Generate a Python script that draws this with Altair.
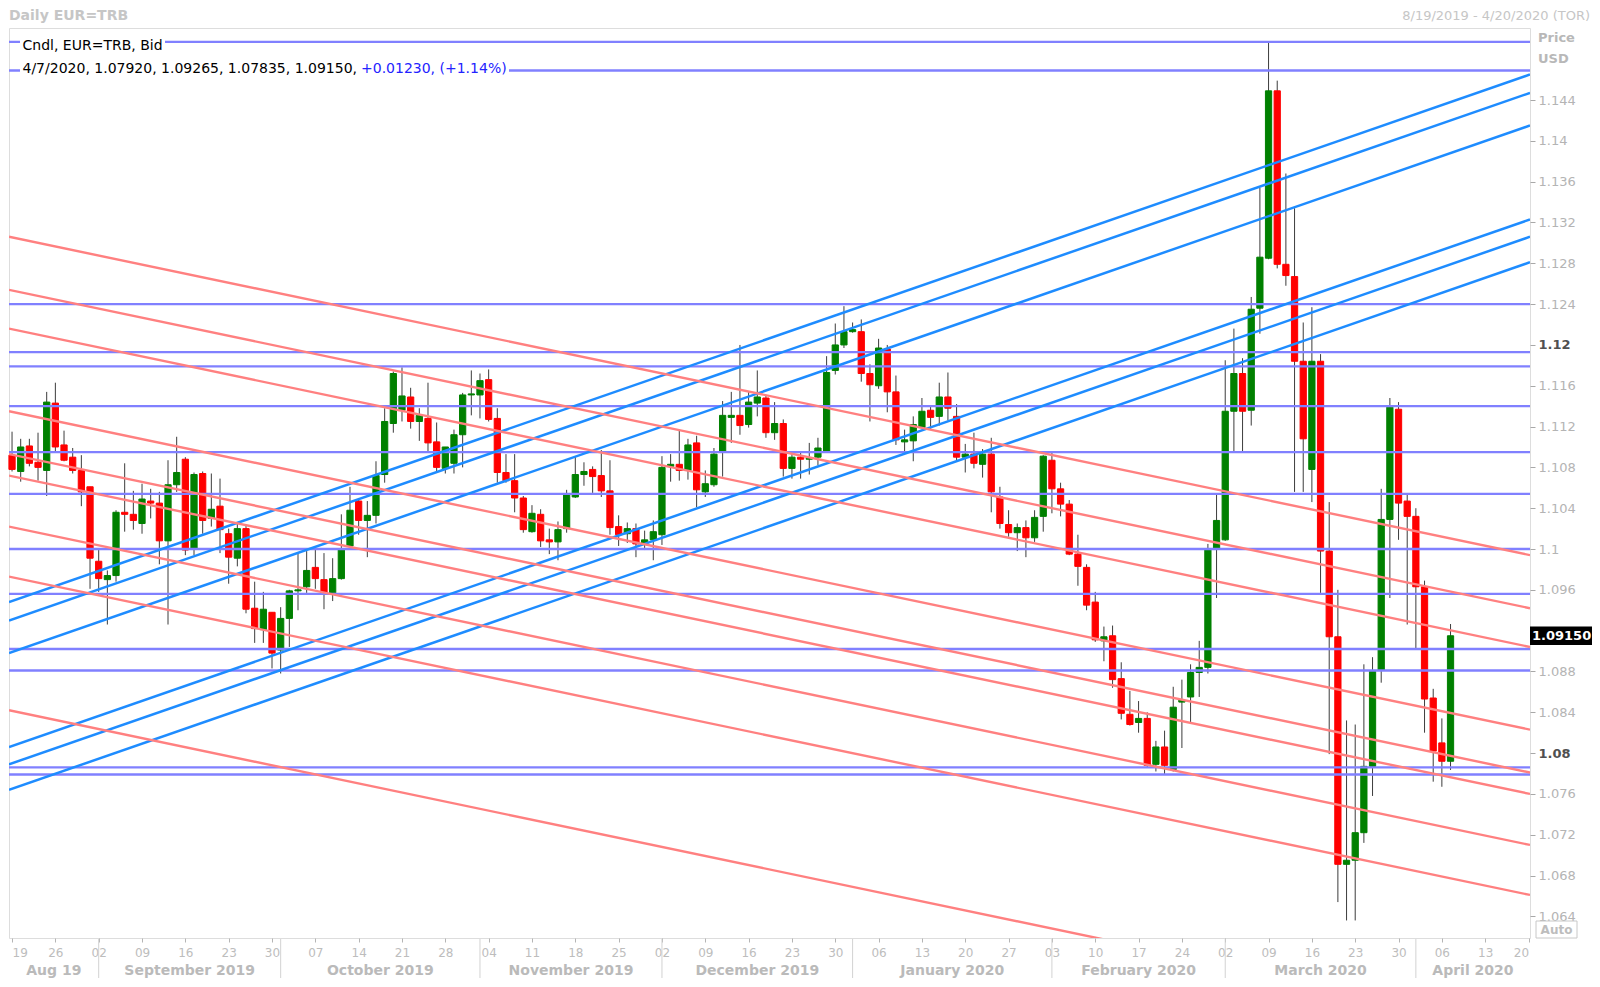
import altair as alt
import pandas as pd

# ---------------- data ----------------
opens = [
    1.1092, 1.1076, 1.1101, 1.1085, 1.1077,
    1.1143, 1.1102, 1.1090, 1.1077, 1.1061,
    1.0988, 1.0970, 1.0974, 1.1036, 1.1034,
    1.1025, 1.1047, 1.1045, 1.1008, 1.1063,
    1.1088, 1.1001, 1.1074, 1.1030, 1.1042,
    1.1015, 1.0991, 1.1020, 1.0942, 1.0921,
    1.0938, 1.0901, 1.0932, 1.0959, 1.0963,
    1.0982, 1.0970, 1.0957, 1.0971, 1.1003,
    1.1047, 1.1028, 1.1033, 1.1073, 1.1123,
    1.1136, 1.1149, 1.1125, 1.1128, 1.1105,
    1.1079, 1.1084, 1.1112, 1.1151, 1.1151,
    1.1166, 1.1128, 1.1075, 1.1067, 1.1050,
    1.1017, 1.1034, 1.1009, 1.1007, 1.1020,
    1.1051, 1.1073, 1.1078, 1.1072, 1.1057,
    1.1022, 1.1015, 1.1020, 1.1005, 1.1009,
    1.1014, 1.1081, 1.1083, 1.1077, 1.1104,
    1.1056, 1.1063, 1.1095, 1.1129, 1.1131,
    1.1122, 1.1143, 1.1148, 1.1114, 1.1123,
    1.1079, 1.1090, 1.1088, 1.1090, 1.1096,
    1.1175, 1.1200, 1.1213, 1.1213, 1.1172,
    1.1160, 1.1196, 1.1154, 1.1105, 1.1106,
    1.1119, 1.1136, 1.1130, 1.1149, 1.1130,
    1.1090, 1.1093, 1.1083, 1.1093, 1.1051,
    1.1024, 1.1016, 1.1021, 1.1011, 1.1032,
    1.1087, 1.1059, 1.1044, 1.0995, 1.0982,
    1.0948, 1.0910, 1.0915, 1.0873, 1.0838,
    1.0830, 1.0834, 1.0789, 1.0806, 1.0784,
    1.0850, 1.0855, 1.0879, 1.0884, 1.1000,
    1.1009, 1.1135, 1.1172, 1.1136, 1.1236,
    1.1285, 1.1449, 1.1279, 1.1267, 1.1184,
    1.1078, 1.1184, 1.0998, 1.0914, 1.0691,
    1.0695, 1.0722, 1.0787, 1.0881, 1.1029,
    1.1137, 1.1047, 1.1032, 1.0963, 1.0854,
    1.0810, 1.0792,
]
highs = [
    1.1115, 1.1108, 1.1108, 1.1114, 1.1154,
    1.1163, 1.1116, 1.1099, 1.1092, 1.1061,
    1.0999, 1.0979, 1.1038, 1.1084, 1.1057,
    1.1064, 1.1059, 1.1056, 1.1087, 1.1110,
    1.1090, 1.1075, 1.1076, 1.1074, 1.1069,
    1.1020, 1.1025, 1.1024, 1.0968, 1.0958,
    1.0938, 1.0943, 1.0960, 1.0996, 1.0998,
    1.1000, 1.0996, 1.0991, 1.1034, 1.1061,
    1.1048, 1.1047, 1.1086, 1.1138, 1.1174,
    1.1178, 1.1158, 1.1138, 1.1163, 1.1124,
    1.1100, 1.1117, 1.1153, 1.1175, 1.1172,
    1.1176, 1.1138, 1.1093, 1.1093, 1.1052,
    1.1043, 1.1039, 1.1020, 1.1027, 1.1058,
    1.1091, 1.1085, 1.1081, 1.1097, 1.1087,
    1.1033, 1.1026, 1.1025, 1.1018, 1.1028,
    1.1091, 1.1093, 1.1117, 1.1108, 1.1111,
    1.1077, 1.1099, 1.1145, 1.1154, 1.1200,
    1.1154, 1.1175, 1.1151, 1.1144, 1.1127,
    1.1096, 1.1095, 1.1104, 1.1109, 1.1189,
    1.1221, 1.1238, 1.1222, 1.1225, 1.1181,
    1.1206, 1.1200, 1.1170, 1.1117, 1.1130,
    1.1148, 1.1141, 1.1163, 1.1173, 1.1142,
    1.1103, 1.1114, 1.1098, 1.1109, 1.1061,
    1.1038, 1.1025, 1.1028, 1.1038, 1.1092,
    1.1096, 1.1065, 1.1048, 1.1014, 1.0985,
    1.0958, 1.0924, 1.0925, 1.0889, 1.0861,
    1.0851, 1.0840, 1.0812, 1.0822, 1.0865,
    1.0872, 1.0887, 1.0910, 1.1005, 1.1053,
    1.1185, 1.1216, 1.1187, 1.1247, 1.1354,
    1.1497, 1.1459, 1.1368, 1.1334, 1.1222,
    1.1237, 1.1191, 1.1046, 1.0960, 1.0832,
    1.0828, 1.0887, 1.0894, 1.1059, 1.1148,
    1.1144, 1.1053, 1.1040, 1.0969, 1.0863,
    1.0834, 1.09265,
]
lows = [
    1.1076, 1.1066, 1.1081, 1.1067, 1.1052,
    1.1095, 1.1086, 1.1074, 1.1042, 1.0961,
    1.0958, 1.0926, 1.0968, 1.1017, 1.1019,
    1.1015, 1.1030, 1.0985, 1.0926, 1.1056,
    1.0994, 1.0994, 1.1015, 1.1022, 1.0996,
    1.0966, 1.0983, 1.0937, 1.0908, 1.0908,
    1.0883, 1.0878, 1.0904, 1.0940, 1.0957,
    1.0961, 1.0941, 1.0949, 1.0970, 1.1003,
    1.1014, 1.0992, 1.1025, 1.1065, 1.1114,
    1.1125, 1.1118, 1.1106, 1.1095, 1.1075,
    1.1074, 1.1074, 1.1080, 1.1131, 1.1128,
    1.1125, 1.1065, 1.1065, 1.1036, 1.1016,
    1.1016, 1.1002, 1.0995, 1.0989, 1.1016,
    1.1050, 1.1062, 1.1055, 1.1051, 1.1014,
    1.1003, 1.1006, 1.0992, 1.0999, 1.0989,
    1.1004, 1.1066, 1.1067, 1.1068, 1.1041,
    1.1051, 1.1061, 1.1071, 1.1104, 1.1112,
    1.1119, 1.1130, 1.1109, 1.1107, 1.1071,
    1.1069, 1.1069, 1.1073, 1.1082, 1.1095,
    1.1171, 1.1197, 1.1212, 1.1164, 1.1125,
    1.1157, 1.1134, 1.1102, 1.1095, 1.1086,
    1.1118, 1.1117, 1.1121, 1.1126, 1.1086,
    1.1075, 1.1079, 1.1070, 1.1036, 1.1020,
    1.1012, 1.0998, 1.0992, 1.1007, 1.1017,
    1.1035, 1.1032, 1.0994, 1.0964, 1.0940,
    1.0909, 1.0890, 1.0864, 1.0833, 1.0827,
    1.0820, 1.0786, 1.0782, 1.0779, 1.0782,
    1.0805, 1.0830, 1.0855, 1.0878, 1.0952,
    1.1008, 1.1095, 1.1095, 1.1121, 1.1211,
    1.1284, 1.1275, 1.1258, 1.1056, 1.1056,
    1.1046, 1.0957, 1.0799, 1.0654, 1.0636,
    1.0636, 1.0712, 1.0758, 1.0869, 1.0952,
    1.1009, 1.0926, 1.0903, 1.0820, 1.0772,
    1.0767, 1.07835,
]
closes = [
    1.1078, 1.1100, 1.1084, 1.1080, 1.1144,
    1.1100, 1.1087, 1.1077, 1.1056, 1.0991,
    1.0971, 1.0974, 1.1036, 1.1034, 1.1028,
    1.1049, 1.1045, 1.1008, 1.1063, 1.1075,
    1.0999, 1.1073, 1.1028, 1.1039, 1.1019,
    1.0992, 1.1020, 1.0941, 1.0922, 1.0941,
    1.0898, 1.0932, 1.0959, 1.0960, 1.0979,
    1.0971, 1.0957, 1.0971, 1.0999, 1.1038,
    1.1028, 1.1033, 1.1072, 1.1125, 1.1172,
    1.1150, 1.1125, 1.1131, 1.1104, 1.1080,
    1.1100, 1.1112, 1.1151, 1.1152, 1.1165,
    1.1127, 1.1075, 1.1067, 1.1050, 1.1019,
    1.1035, 1.1008, 1.1007, 1.1019, 1.1054,
    1.1073, 1.1076, 1.1071, 1.1057, 1.1021,
    1.1014, 1.1020, 1.1005, 1.1009, 1.1017,
    1.1080, 1.1083, 1.1077, 1.1102, 1.1058,
    1.1064, 1.1093, 1.1131, 1.1131, 1.1121,
    1.1144, 1.1149, 1.1114, 1.1123, 1.1079,
    1.1090, 1.1088, 1.1089, 1.1099, 1.1173,
    1.1200, 1.1213, 1.1215, 1.1172, 1.1161,
    1.1197, 1.1154, 1.1107, 1.1107, 1.1122,
    1.1135, 1.1129, 1.1149, 1.1138, 1.1090,
    1.1093, 1.1084, 1.1093, 1.1056, 1.1025,
    1.1016, 1.1021, 1.1011, 1.1031, 1.1091,
    1.1059, 1.1044, 1.0995, 1.0983, 1.0945,
    1.0911, 1.0914, 1.0872, 1.0839, 1.0828,
    1.0834, 1.0788, 1.0806, 1.0788, 1.0845,
    1.0852, 1.0879, 1.0884, 1.1000, 1.1028,
    1.1135, 1.1172, 1.1135, 1.1235, 1.1286,
    1.1449, 1.1279, 1.1268, 1.1184, 1.1108,
    1.1184, 1.0998, 1.0914, 1.0691, 1.0695,
    1.0722, 1.0787, 1.0880, 1.1029, 1.1139,
    1.1045, 1.1032, 1.0963, 1.0853, 1.0802,
    1.0792, 1.0915,
]
last_date = "4/7/2020"

# horizontal support / resistance levels
h_levels = [1.1497, 1.1469, 1.1240, 1.1193, 1.1179, 1.1140, 1.1095,
            1.1054, 1.1000, 1.0956, 1.0902, 1.0881, 1.0786, 1.0779]
# rising channel lines (price at left edge, price at right edge)
blue_left = [1.0948, 1.0930, 1.0898, 1.0806, 1.0789, 1.0764]
blue_right = [1.1465, 1.1447, 1.1415, 1.1323, 1.1306, 1.1281]
# falling channel lines
red_left = [1.1306, 1.1254, 1.1216, 1.1135, 1.1093, 1.1072, 1.1022, 1.0973, 1.0842]
red_right = [1.0994, 1.0942, 1.0904, 1.0823, 1.0781, 1.0760, 1.0710, 1.0661, 1.0530]

week_labels = ["19", "26", "02", "09", "16", "23", "30", "07", "14", "21", "28",
               "04", "11", "18", "25", "02", "09", "16", "23", "30", "06", "13",
               "20", "27", "03", "10", "17", "24", "02", "09", "16", "23", "30",
               "06", "13", "20"]
month_names = ["Aug 19", "September 2019", "October 2019", "November 2019",
               "December 2019", "January 2020", "February 2020", "March 2020",
               "April 2020"]
month_starts = [0, 10, 31, 54, 75, 97, 120, 140, 162]
y_ticks = [1.064, 1.068, 1.072, 1.076, 1.08, 1.084, 1.088, 1.096, 1.1, 1.104,
           1.108, 1.112, 1.116, 1.12, 1.124, 1.128, 1.132, 1.136, 1.14, 1.144]

# ---------------- layout ----------------
X_MIN, X_MAX = -0.35, 175.17
Y_MIN, Y_MAX = 1.06188, 1.15106
W, H = 1521, 910
FONT = "DejaVu Sans"

n = len(closes)
candles = pd.DataFrame({"i": list(range(n)), "open": opens, "high": highs,
                        "low": lows, "close": closes})
candles["dir"] = ["up" if c >= o else "down" for o, c in zip(opens, closes)]
candles["x0"] = candles["i"] - 0.36
candles["x1"] = candles["i"] + 0.36

xs = alt.Scale(domain=[X_MIN, X_MAX], nice=False, zero=False)
ys = alt.Scale(domain=[Y_MIN, Y_MAX], nice=False, zero=False)
dir_scale = alt.Scale(domain=["up", "down"], range=["#008000", "#ff0000"])

day_expr = "[" + ",".join("'%s'" % s for s in week_labels) + "][round(datum.value / 5)]"
x_axis = alt.Axis(orient="bottom", values=[5 * k for k in range(len(week_labels))],
                  labelExpr=day_expr,
                  labelFlush=8, labelOverlap=False, labelBound=False,
                  tickSize=4, tickColor="#b5b5b5", labelColor="#bdbdbd",
                  labelFont=FONT, labelFontSize=12, labelPadding=5,
                  domain=False, grid=False, title=None)

is_bold = "abs(datum.value - 1.12) < 1e-6 || abs(datum.value - 1.08) < 1e-6"
y_axis = alt.Axis(orient="right", values=y_ticks, format=".3~f",
                  labelColor={"condition": {"test": is_bold, "value": "#505050"}, "value": "#b4b4b4"},
                  labelFontWeight={"condition": {"test": is_bold, "value": "bold"}, "value": "normal"},
                  labelFont=FONT, labelFontSize=13, labelPadding=3,
                  tickSize=5, tickColor="#a8a8a8", domain=False, grid=False, title=None)


def X(field):
    return alt.X(field, scale=xs, axis=x_axis)


def Y(field):
    return alt.Y(field, scale=ys, axis=y_axis)


wicks = alt.Chart(candles).mark_rule(color="#3c3c3c", strokeWidth=1).encode(
    x=X("i:Q"), y=Y("low:Q"), y2="high:Q")
bodies = alt.Chart(candles).mark_rect(strokeWidth=1).encode(
    x=X("x0:Q"), x2="x1:Q",
    y=Y("open:Q"), y2="close:Q",
    fill=alt.Fill("dir:N", scale=dir_scale, legend=None),
    stroke=alt.Stroke("dir:N", scale=dir_scale, legend=None),
)

hlines = alt.Chart(pd.DataFrame({"p": h_levels})).mark_rule(
    color="#8080ff", strokeWidth=2.4).encode(y=Y("p:Q"))


def diag_frame(prefix, left, right):
    rows = []
    for k, (a, b) in enumerate(zip(left, right)):
        rows.append({"id": f"{prefix}{k}", "x": X_MIN, "p": a})
        rows.append({"id": f"{prefix}{k}", "x": X_MAX, "p": b})
    return pd.DataFrame(rows)


blue = alt.Chart(diag_frame("b", blue_left, blue_right)).mark_line(
    color="#1e8cff", strokeWidth=2.5, clip=True).encode(
    x=X("x:Q"), y=Y("p:Q"), detail="id:N")
red = alt.Chart(diag_frame("r", red_left, red_right)).mark_line(
    color="#ff8080", strokeWidth=2.4, clip=True).encode(
    x=X("x:Q"), y=Y("p:Q"), detail="id:N")

# month labels and separators under the day labels
m_begin = [X_MIN] + month_starts[1:]
m_end = month_starts[1:] + [X_MAX]
mdf = pd.DataFrame({"name": month_names, "c": [(a + b) / 2 for a, b in zip(m_begin, m_end)]})
months = alt.Chart(mdf).mark_text(font=FONT, fontSize=14, fontWeight="bold",
                                  color="#bababa", baseline="middle").encode(
    x=X("c:Q"), y=alt.value(943), text="name:N")
seps = alt.Chart(pd.DataFrame({"s": month_starts[1:]})).mark_rule(
    color="#d2d2d2", strokeWidth=1).encode(
    x=X("s:Q"), y=alt.value(911), y2=alt.value(952))


def txt(text, x, y, **kw):
    return alt.Chart(pd.DataFrame({"t": [text]})).mark_text(font=FONT, **kw).encode(
        x=alt.value(x), y=alt.value(y), text="t:N")


def box(x, x2, y, y2, **kw):
    return alt.Chart(pd.DataFrame({"t": [0]})).mark_rect(**kw).encode(
        x=alt.value(x), x2=alt.value(x2), y=alt.value(y), y2=alt.value(y2))


o, h, l, c = opens[-1], highs[-1], lows[-1], closes[-1]
chg = c - o
row1 = "Cndl, EUR=TRB, Bid"
row2a = f"{last_date}, {o:.5f}, {h:.5f}, {l:.5f}, {c:.5f},"
row2b = f"{chg:+.5f}, ({chg / o * 100:+.2f}%)"

bg1 = box(11, 156, 8, 28, fill="white")
bg2 = box(11, 500, 31, 50, fill="white")
t1 = txt(row1, 13.5, 18, fontSize=14, color="black", align="left", baseline="middle")
t2a = txt(row2a, 13.5, 40.5, fontSize=14, color="black", align="left", baseline="middle")
t2b = txt(row2b, 352, 40.5, fontSize=14, color="#2323ff", align="left", baseline="middle")

pb = pd.DataFrame({"c": [c]})
price_box = alt.Chart(pb).transform_calculate(
    top="datum.c + 0.0009", bot="datum.c - 0.0009").mark_rect(color="black").encode(
    x=alt.value(1521), x2=alt.value(1583),
    y=Y("top:Q"), y2="bot:Q")
price_txt = alt.Chart(pb).mark_text(font=FONT, fontSize=13, fontWeight="bold",
                                    color="white", align="left", baseline="middle").encode(
    x=alt.value(1523), y=Y("c:Q"), text=alt.Text("c:Q", format=".5f"))

head_l = txt("Daily EUR=TRB", 0, -8, fontSize=14, fontWeight="bold", color="#c6c6c6",
             align="left", baseline="alphabetic")
head_r = txt("8/19/2019 - 4/20/2020 (TOR)", 1581, -8, fontSize=13, color="#c6c6c6",
             align="right", baseline="alphabetic")
lab_price = txt("Price", 1529, 10, fontSize=13, fontWeight="bold", color="#b8b8b8",
                align="left", baseline="middle")
lab_usd = txt("USD", 1529, 31, fontSize=13, fontWeight="bold", color="#b8b8b8",
              align="left", baseline="middle")
auto_box = box(1527, 1568, 893, 910, fill="white", stroke="#c8c8c8", strokeWidth=1)
auto_txt = txt("Auto", 1547.5, 902, fontSize=12, fontWeight="bold", color="#bdbdbd",
               align="center", baseline="middle")

chart = alt.layer(
    wicks, bodies, hlines, blue, red,
    bg1, bg2, t1, t2a, t2b,
    price_box, price_txt, months, seps,
    head_l, head_r, lab_price, lab_usd, auto_box, auto_txt,
).properties(
    width=W, height=H, autosize="none",
    padding={"left": 1, "top": 20, "right": 62, "bottom": 40},
).configure_view(stroke="#8c8c8c", strokeWidth=1.5).configure(background="white")

chart.save("out.html", embed_options={"renderer": "svg", "actions": False})
